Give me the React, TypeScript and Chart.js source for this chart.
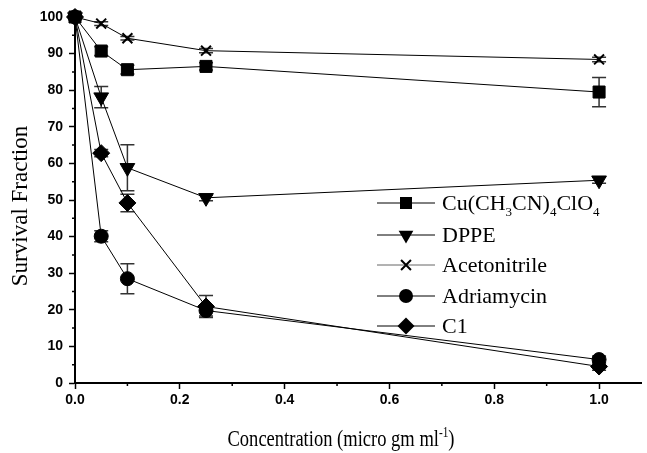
import React, { useEffect, useRef } from 'react';
import { Chart, registerables } from 'chart.js';
Chart.register(...registerables);

const concentrations = [0, 0.05, 0.1, 0.25, 1.0];
const cuValues = [100, 90.7, 85.6, 86.5, 79.5];
const cuErrors = [0, 1.2, 1.2, 1.0, 4.0];
const dppeValues = [100, 78.1, 58.8, 50.6, 55.4];
const dppeErrors = [0, 2.9, 6.3, 0.8, 0.8];
const acnValues = [100, 98.2, 94.2, 90.8, 88.4];
const acnErrors = [0, 0.5, 0.5, 0.6, 0.6];
const adrValues = [100, 40.1, 28.5, 19.8, 6.4];
const adrErrors = [0, 1.5, 4.1, 1.5, 1.0];
const c1Values = [100, 62.8, 49.2, 20.9, 4.5];
const c1Errors = [0, 1.0, 2.4, 3.0, 1.0];

const seriesNames = ['Cu(CH3CN)4ClO4', 'DPPE', 'Acetonitrile', 'Adriamycin', 'C1'];
const xTitle = 'Concentration (micro gm ml';
const yTitle = 'Survival Fraction';

type Part = [string, number];
const legendParts: Part[][] = [
  [['Cu(CH', 0], ['3', 1], ['CN)', 0], ['4', 1], ['ClO', 0], ['4', 1]],
  [['DPPE', 0]],
  [['Acetonitrile', 0]],
  [['Adriamycin', 0]],
  [['C1', 0]],
];

const SERIF = '"Liberation Serif", "Times New Roman", serif';
const SANS = '"Liberation Sans", Arial, sans-serif';

function drawMarker(ctx: CanvasRenderingContext2D, style: string, x: number, y: number) {
  ctx.save();
  ctx.fillStyle = '#000';
  ctx.strokeStyle = '#000';
  ctx.beginPath();
  if (style === 'rect') {
    const s = 8.5 * Math.SQRT1_2;
    ctx.rect(x - s, y - s, 2 * s, 2 * s);
    ctx.fill();
  } else if (style === 'triangle') {
    const r = 8.5;
    ctx.moveTo(x, y + r);
    ctx.lineTo(x - r * Math.sin(Math.PI / 3), y - r / 2);
    ctx.lineTo(x + r * Math.sin(Math.PI / 3), y - r / 2);
    ctx.closePath();
    ctx.fill();
  } else if (style === 'crossRot') {
    const r = 7 * Math.SQRT1_2;
    ctx.lineWidth = 2;
    ctx.moveTo(x - r, y - r);
    ctx.lineTo(x + r, y + r);
    ctx.moveTo(x - r, y + r);
    ctx.lineTo(x + r, y - r);
    ctx.stroke();
  } else if (style === 'circle') {
    ctx.arc(x, y, 7, 0, Math.PI * 2);
    ctx.fill();
  } else if (style === 'rectRot') {
    const r = 8.5;
    ctx.moveTo(x, y - r);
    ctx.lineTo(x + r, y);
    ctx.lineTo(x, y + r);
    ctx.lineTo(x - r, y);
    ctx.closePath();
    ctx.fill();
  }
  ctx.restore();
}

function drawRich(ctx: CanvasRenderingContext2D, parts: Part[], x: number, y: number, size: number, subSize: number, measureOnly = false) {
  let cx = x;
  for (const [t, kind] of parts) {
    const fs = kind === 0 ? size : subSize;
    ctx.font = `${fs}px ${SERIF}`;
    const dy = kind === 1 ? 6 : kind === 2 ? -9 : 0;
    if (!measureOnly) ctx.fillText(t, cx, y + dy);
    cx += ctx.measureText(t).width;
  }
  return cx - x;
}

const pointStyles = ['rect', 'triangle', 'crossRot', 'circle', 'rectRot'];
const allValues = [cuValues, dppeValues, acnValues, adrValues, c1Values];
const allErrors = [cuErrors, dppeErrors, acnErrors, adrErrors, c1Errors];

const errorBarPlugin = {
  id: 'errorBars',
  beforeDatasetsDraw(chart: any) {
    const ctx = chart.ctx;
    const yScale = chart.scales.y;
    ctx.save();
    ctx.strokeStyle = '#333';
    ctx.lineWidth = 1.5;
    allErrors.forEach((errs, i) => {
      const meta = chart.getDatasetMeta(i);
      errs.forEach((e, j) => {
        if (!e) return;
        const pt = meta.data[j];
        const v = allValues[i][j];
        const y1 = yScale.getPixelForValue(v + e);
        const y2 = yScale.getPixelForValue(v - e);
        ctx.beginPath();
        ctx.moveTo(pt.x, y1);
        ctx.lineTo(pt.x, y2);
        ctx.moveTo(pt.x - 7, y1);
        ctx.lineTo(pt.x + 7, y1);
        ctx.moveTo(pt.x - 7, y2);
        ctx.lineTo(pt.x + 7, y2);
        ctx.stroke();
      });
    });
    ctx.restore();
  },
};

const decorPlugin = {
  id: 'decor',
  afterDraw(chart: any) {
    const ctx = chart.ctx;
    const { left, bottom } = chart.chartArea;
    const xs = chart.scales.x;
    const ys = chart.scales.y;
    ctx.save();
    // minor ticks
    ctx.strokeStyle = '#000';
    ctx.lineWidth = 1.5;
    ctx.beginPath();
    for (let v = 5; v < 100; v += 10) {
      const py = ys.getPixelForValue(v);
      ctx.moveTo(left - 3, py);
      ctx.lineTo(left, py);
    }
    for (let k = 1; k <= 9; k += 2) {
      const px = xs.getPixelForValue(k / 10);
      ctx.moveTo(px, bottom);
      ctx.lineTo(px, bottom + 3);
    }
    ctx.stroke();

    // axis titles
    ctx.fillStyle = '#000';
    ctx.textBaseline = 'alphabetic';
    ctx.textAlign = 'left';
    const xParts: Part[] = [[xTitle, 0], ['-1', 2], [')', 0]];
    const w = drawRich(ctx, xParts, 0, 0, 23, 14, true);
    const sx = 227 / w;
    ctx.save();
    ctx.translate(341 - 113.5, 446);
    ctx.scale(sx, 1);
    drawRich(ctx, xParts, 0, 0, 23, 14);
    ctx.restore();

    ctx.save();
    ctx.translate(27, 206);
    ctx.rotate(-Math.PI / 2);
    ctx.font = `23px ${SERIF}`;
    ctx.textAlign = 'center';
    ctx.fillText(yTitle, 0, 0);
    ctx.restore();

    // legend
    const rows = [203, 235, 265, 296, 326];
    rows.forEach((ry, i) => {
      ctx.strokeStyle = i === 2 ? '#666' : '#000';
      ctx.lineWidth = 1;
      ctx.beginPath();
      ctx.moveTo(377, ry);
      ctx.lineTo(435, ry);
      ctx.stroke();
      drawMarker(ctx, pointStyles[i], 406, ry);
      ctx.fillStyle = '#000';
      ctx.textAlign = 'left';
      drawRich(ctx, legendParts[i], 442, ry + 7, 22, 13);
    });
    ctx.restore();
  },
};

export default function App() {
  const ref = useRef<HTMLCanvasElement | null>(null);
  useEffect(() => {
    document.body.style.margin = '0';
    const canvas = ref.current!;
    const mk = (i: number, values: number[]) => ({
      label: seriesNames[i],
      data: concentrations.map((c, j) => ({ x: c, y: values[j] })),
      borderColor: '#000',
      borderWidth: 1,
      backgroundColor: '#000',
      pointBackgroundColor: '#000',
      pointBorderColor: '#000',
      pointStyle: pointStyles[i],
      rotation: pointStyles[i] === 'triangle' ? 180 : 0,
      pointRadius: pointStyles[i] === 'circle' || pointStyles[i] === 'crossRot' ? 7 : 8.5,
      pointBorderWidth: pointStyles[i] === 'crossRot' ? 2 : 1,
      pointHoverRadius: 0,
      fill: false,
      tension: 0,
      clip: false as any,
    });
    const chart = new Chart(canvas, {
      type: 'line',
      data: {
        datasets: allValues.map((v, i) => mk(i, v)) as any,
      },
      options: {
        animation: false,
        responsive: false,
        devicePixelRatio: 1,
        events: [],
        layout: { padding: { top: 17, right: 6, left: 0, bottom: 0 }, autoPadding: false } as any,
        plugins: { legend: { display: false }, tooltip: { enabled: false }, title: { display: false } },
        scales: {
          x: {
            type: 'linear',
            min: 0,
            max: 1.08,
            afterFit: (s: any) => { s.height = 70; },
            ticks: {
              stepSize: 0.1,
              includeBounds: false,
              autoSkip: false,
              maxRotation: 0,
              padding: 3,
              color: '#000',
              font: { family: SANS, weight: 'bold', size: 14 },
              callback: (v: any) => {
                const k = Math.round(Number(v) * 10);
                return k % 2 === 0 ? (k / 10).toFixed(1) : '';
              },
            },
            grid: {
              drawOnChartArea: false,
              tickLength: 6,
              tickWidth: 1.5,
              tickColor: (c: any) => (Math.round(c.tick.value * 10) % 2 === 0 ? '#000' : 'rgba(0,0,0,0)'),
            },
            border: { color: '#000', width: 2 },
          },
          y: {
            type: 'linear',
            min: 0,
            max: 100,
            afterFit: (s: any) => { s.width = 75; },
            ticks: {
              stepSize: 5,
              autoSkip: false,
              padding: 6,
              color: '#000',
              font: { family: SANS, weight: 'bold', size: 14 },
              callback: (v: any) => (Math.round(Number(v)) % 10 === 0 ? String(Math.round(Number(v))) : ''),
            },
            grid: {
              drawOnChartArea: false,
              tickLength: 6,
              tickWidth: 1.5,
              tickColor: (c: any) => (Math.round(c.tick.value) % 10 === 0 ? '#000' : 'rgba(0,0,0,0)'),
            },
            border: { color: '#000', width: 2 },
          },
        },
      } as any,
      plugins: [errorBarPlugin, decorPlugin],
    });
    return () => chart.destroy();
  }, []);
  return (
    <div style={{ width: 647, height: 453, background: '#fff' }}>
      <canvas ref={ref} width={647} height={453} style={{ display: 'block' }} />
    </div>
  );
}
